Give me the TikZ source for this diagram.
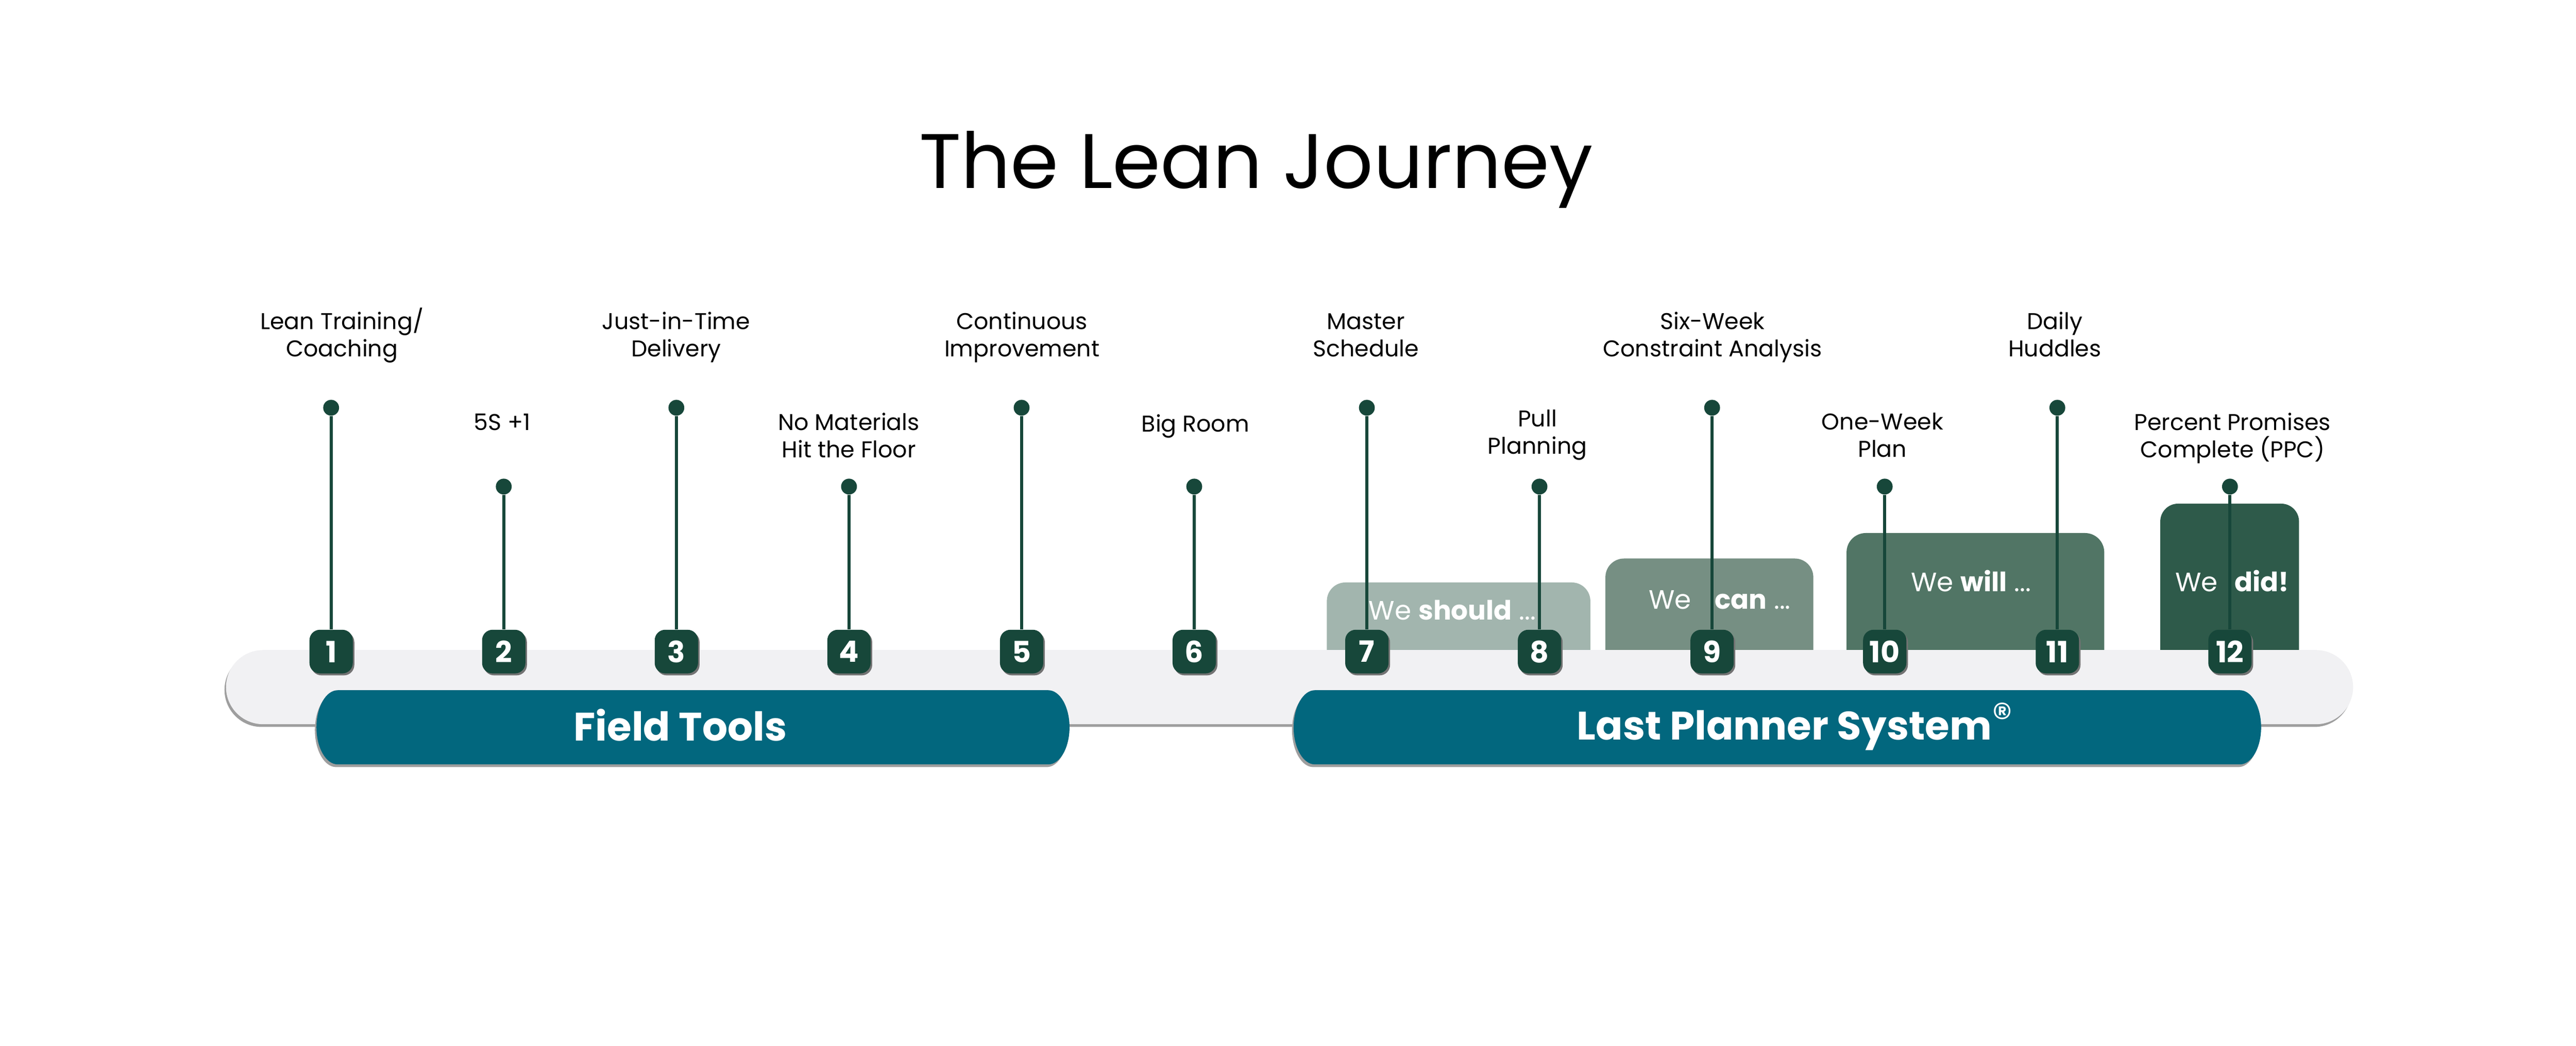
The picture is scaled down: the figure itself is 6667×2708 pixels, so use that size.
\documentclass[tikz,border=0pt]{standalone}
\usepackage{fontspec}
\setmainfont{Poppins}
\usepackage{tikz}
\usetikzlibrary{positioning,shadows}
\definecolor{leanbar}{HTML}{F1F1F3}
\definecolor{leanteal}{HTML}{02677E}
\definecolor{leangreen}{HTML}{17473A}
\definecolor{boxshould}{HTML}{A2B5AE}
\definecolor{boxcan}{HTML}{768F83}
\definecolor{boxwill}{HTML}{517565}
\definecolor{boxdid}{HTML}{2E5A4A}
\tikzset{
badge/.style = {fill=leangreen, rounded corners=0.27cm, minimum width=1.12cm, minimum height=1.13cm, inner sep=0pt, text=white,
  font=\fontsize{21.6pt}{24pt}\selectfont\bfseries, drop shadow={shadow xshift=0.04cm, shadow yshift=-0.05cm, fill=black!55, opacity=1}},
knob/.style = {circle, fill=leangreen, minimum size=0.41cm, inner sep=0pt},
stem/.style = {draw=leangreen, line width=0.08cm},
milestone/.style = {anchor=base, align=center, inner sep=0pt, font=\fontsize{16.8pt}{20.2pt}\selectfont},
phase/.style = {anchor=base, inner sep=0pt, text=white, font=\fontsize{29.3pt}{32pt}\selectfont\bfseries},
saying/.style = {anchor=base, inner sep=0pt, text=white, font=\fontsize{19.6pt}{22pt}\selectfont},
barshadow/.style = {drop shadow={shadow xshift=-0.04cm, shadow yshift=-0.07cm, fill=black!38, opacity=1}}
}
% pill with flat elliptic ends: left, right, top, bottom
\newcommand{\pillpath}[4]{(#1+55,-#3) -- (#2-55,-#3) arc[start angle=90, end angle=-90, x radius=55, y radius=96] -- (#1+55,-#4) arc[start angle=270, end angle=90, x radius=55, y radius=96] -- cycle}

\begin{document}
\begin{tikzpicture}[x=0.01cm, y=0.01cm]
        \useasboundingbox (0,0) rectangle (6667,-2708);
        \node [anchor=base, inner sep=0pt, font=\fontsize{56.9pt}{60pt}\selectfont] (title) at (3251,-488) {The Lean Journey};
        % the four boxes behind the bar
        \fill [boxshould, rounded corners=0.48cm] (3434,-1760) rectangle (4116,-1508);
        \fill [boxcan, rounded corners=0.48cm] (4155,-1760) rectangle (4693,-1446);
        \fill [boxwill, rounded corners=0.5cm] (4779,-1760) rectangle (5446,-1380);
        \fill [boxdid, rounded corners=0.46cm] (5591,-1760) rectangle (5950,-1304);
        \node [saying] (should) at (3759,-1605) {We \textbf{should} ...};
        \node [saying] (can) at (4451,-1577) {We\hspace{0.42cm} \textbf{can} ...};
        \node [saying] (will) at (5101,-1532) {We \textbf{will} ...};
        \node [saying] (did) at (5777,-1531) {We\hspace{0.25cm} \textbf{did!}};
        % bar and phases
        \fill [leanbar, rounded corners=0.96cm, barshadow] (585,-1683) rectangle (6090,-1875);
        \fill [leanteal, barshadow] \pillpath{819}{2768}{1787}{1979};
        \fill [leanteal, barshadow] \pillpath{3348}{5852}{1787}{1979};
        \node [phase] (field) at (1761,-1918) {Field Tools};
        \node [phase] (lps) at (4645,-1916) {Last Planner System\raisebox{0.22cm}{\fontsize{30pt}{30pt}\selectfont\mdseries ®}};
        % steps
        \begin{scope}[node distance=4.465cm]
        \node [badge] (b1) at (857,-1687) {1};
        \node [badge, right of=b1] (b2) {2};
        \node [badge, right of=b2] (b3) {3};
        \node [badge, right of=b3] (b4) {4};
        \node [badge, right of=b4] (b5) {5};
        \node [badge, right of=b5] (b6) {6};
        \node [badge, right of=b6] (b7) {7};
        \node [badge, right of=b7] (b8) {8};
        \node [badge, right of=b8] (b9) {9};
        \node [badge, right of=b9] (b10) {10};
        \node [badge, right of=b10] (b11) {11};
        \node [badge, right of=b11] (b12) {12};
        \end{scope}
        \node [knob, node distance=6.31cm, above of=b1] (d1) {};
        \node [knob, node distance=4.27cm, above of=b2] (d2) {};
        \node [knob, node distance=6.31cm, above of=b3] (d3) {};
        \node [knob, node distance=4.27cm, above of=b4] (d4) {};
        \node [knob, node distance=6.31cm, above of=b5] (d5) {};
        \node [knob, node distance=4.27cm, above of=b6] (d6) {};
        \node [knob, node distance=6.31cm, above of=b7] (d7) {};
        \node [knob, node distance=4.27cm, above of=b8] (d8) {};
        \node [knob, node distance=6.31cm, above of=b9] (d9) {};
        \node [knob, node distance=4.27cm, above of=b10] (d10) {};
        \node [knob, node distance=6.31cm, above of=b11] (d11) {};
        \node [knob, node distance=4.27cm, above of=b12] (d12) {};
        \draw [stem] (d1) -- (b1);
        \draw [stem] (d2) -- (b2);
        \draw [stem] (d3) -- (b3);
        \draw [stem] (d4) -- (b4);
        \draw [stem] (d5) -- (b5);
        \draw [stem] (d6) -- (b6);
        \draw [stem] (d7) -- (b7);
        \draw [stem] (d8) -- (b8);
        \draw [stem] (d9) -- (b9);
        \draw [stem] (d10) -- (b10);
        \draw [stem] (d11) -- (b11);
        \draw [stem] (d12) -- (b12);
        % labels (base = last line)
        \node [milestone] (l1) at (885,-924) {Lean Training/\\Coaching};
        \node [milestone] (l2) at (1300,-1114) {5S +1};
        \node [milestone] (l3) at (1750,-924) {Just-in-Time\\Delivery};
        \node [milestone] (l4) at (2197,-1185) {No Materials\\Hit the Floor};
        \node [milestone] (l5) at (2645,-924) {Continuous\\Improvement};
        \node [milestone] (l6) at (3094,-1118) {Big Room};
        \node [milestone] (l7) at (3535,-924) {Master\\Schedule};
        \node [milestone] (l8) at (3979,-1176) {Pull\\Planning};
        \node [milestone] (l9) at (4432,-924) {Six-Week\\Constraint Analysis};
        \node [milestone] (l10) at (4872,-1184) {One-Week\\Plan};
        \node [milestone] (l11) at (5318,-924) {Daily\\Huddles};
        \node [milestone] (l12) at (5778,-1185) {Percent Promises\\Complete (PPC)};
\end{tikzpicture}
\end{document}
